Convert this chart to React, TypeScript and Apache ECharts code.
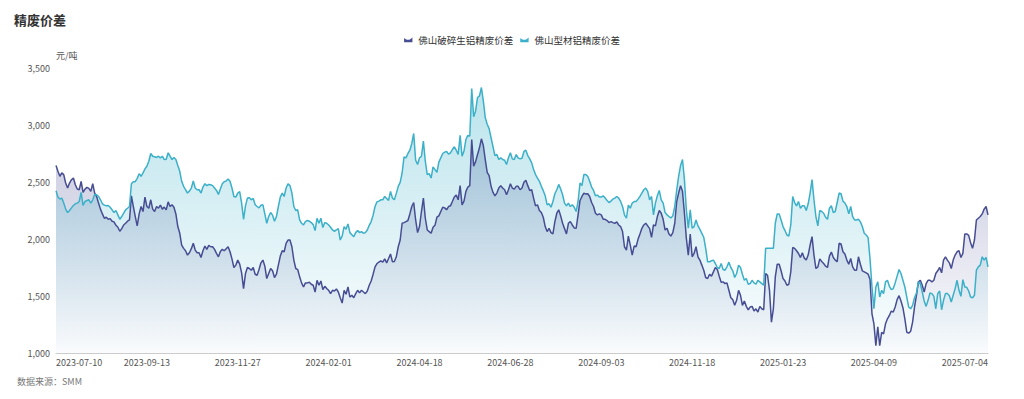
import React, { useEffect, useRef } from 'react';
import * as echarts from 'echarts';

// ---------- categories (Chinese trading days) ----------
const START = [2023, 6, 10]; // 2023-07-10 (month is 0-based)
const CATEGORY_COUNT = 483;
const HOLIDAYS = [
  '2023-09-29', '2023-10-02', '2023-10-03', '2023-10-04', '2023-10-05', '2023-10-06',
  '2024-01-01', '2024-02-09', '2024-02-12', '2024-02-13', '2024-02-14', '2024-02-15', '2024-02-16',
  '2024-04-04', '2024-04-05', '2024-05-01', '2024-05-02', '2024-05-03', '2024-06-10',
  '2024-09-16', '2024-09-17', '2024-10-01', '2024-10-02', '2024-10-03', '2024-10-04', '2024-10-07',
  '2025-01-01', '2025-01-28', '2025-01-29', '2025-01-30', '2025-01-31', '2025-02-03', '2025-02-04',
  '2025-04-04', '2025-05-01', '2025-05-02', '2025-05-05', '2025-06-02',
];
const NO_PRICE_DAYS = [
  '2025-05-06', '2025-05-07', '2025-05-08', '2025-05-09', '2025-05-12', '2025-05-13',
  '2025-05-14', '2025-05-15', '2025-05-16', '2025-05-19', '2025-05-20',
];

// ---------- series ----------
const SERIES_NAMES = ['佛山破碎生铝精废价差', '佛山型材铝精废价差'];

const crushedSpread = [
  2644, 2594, 2550, 2580, 2565, 2491, 2447, 2491, 2520, 2535,
  2476, 2438, 2432, 2506, 2409, 2438, 2453, 2444, 2418, 2485,
  2403, 2373, 2315, 2262, 2220, 2182, 2191, 2173, 2179, 2156,
  2150, 2120, 2103, 2068, 2091, 2123, 2138, 2156, 2167, 2379,
  2285, 2197, 2115, 2220, 2285, 2241, 2368, 2285, 2270, 2344,
  2262, 2241, 2285, 2270, 2297, 2262, 2280, 2256, 2326, 2285,
  2300, 2279, 2220, 2109, 2050, 1947, 1918, 1897, 1859, 1879,
  1915, 1962, 1903, 1879, 1879, 1838, 1897, 1938, 1909, 1944,
  1932, 1932, 1909, 1874, 1844, 1891, 1909, 1897, 1915, 1932,
  1888, 1826, 1750, 1771, 1815, 1779, 1703, 1565, 1697, 1750,
  1741, 1726, 1750, 1691, 1682, 1732, 1791, 1815, 1762, 1653,
  1697, 1741, 1721, 1662, 1691, 1771, 1850, 1897, 1888, 1962,
  1991, 1991, 1932, 1815, 1741, 1732, 1668, 1615, 1579, 1615,
  1615, 1621, 1603, 1594, 1535, 1638, 1594, 1632, 1556, 1585,
  1565, 1550, 1521, 1550, 1544, 1562, 1535, 1485, 1438, 1550,
  1515, 1579, 1491, 1506, 1485, 1521, 1550, 1527, 1550, 1535,
  1521, 1544, 1594, 1632, 1691, 1756, 1785, 1797, 1809, 1797,
  1826, 1791, 1829, 1868, 1800, 1803, 1844, 1932, 1991, 2138,
  2144, 2153, 2162, 2220, 2285, 2320, 2167, 2056, 2109, 2241,
  2359, 2182, 2079, 2065, 2050, 2103, 2120, 2191, 2203, 2241,
  2279, 2273, 2256, 2285, 2291, 2329, 2368, 2385, 2344, 2468,
  2300, 2332, 2418, 2456, 2468, 2873, 2638, 2679, 2741, 2800,
  2879, 2820, 2697, 2585, 2556, 2462, 2409, 2379, 2403, 2447,
  2468, 2447, 2432, 2388, 2432, 2485, 2447, 2438, 2462, 2462,
  2432, 2447, 2497, 2515, 2468, 2426, 2432, 2359, 2291, 2300,
  2250, 2232, 2191, 2109, 2065, 2094, 2056, 2044, 2153, 2226,
  2256, 2203, 2138, 2091, 2044, 2138, 2153, 2123, 2097, 2094,
  2212, 2338, 2373, 2403, 2394, 2397, 2373, 2320, 2285, 2226,
  2212, 2220, 2212, 2173, 2173, 2162, 2144, 2153, 2144, 2138,
  2150, 2123, 2109, 2065, 1932, 1903, 2026, 1947, 1859, 1938,
  1932, 1997, 2044, 2094, 2123, 2138, 2115, 2091, 2015, 2123,
  2115, 2197, 2250, 2226, 2173, 2079, 2094, 2044, 2026, 2056,
  2138, 2329, 2403, 2468, 2418, 2226, 2005, 1859, 2044, 1844,
  1873, 1932, 1844, 1815, 1771, 1726, 1662, 1653, 1691, 1674,
  1712, 1750, 1732, 1674, 1621, 1624, 1609, 1615, 1550, 1485,
  1468, 1418, 1462, 1550, 1506, 1418, 1456, 1409, 1379, 1403,
  1409, 1368, 1388, 1359, 1409, 1388, 1379, 1697, 1682, 1550,
  1271, 1388, 1668, 1779, 1779, 1721, 1653, 1632, 1594, 1603,
  1712, 1926, 1918, 1897, 1873, 1838, 1879, 1832, 1815, 1859,
  1947, 2021, 1859, 1741, 1756, 1826, 1803, 1785, 1762, 1750,
  1850, 1885, 1838, 1815, 1800, 1962, 1956, 1888, 1868, 1815,
  1779, 1829, 1756, 1726, 1726, 1844, 1779, 1721, 1712, 1703,
  1691, 1644, 1344, 1256, 1065, 1230, 1065, 1182, 1168, 1256,
  1300, 1329, 1368, 1359, 1403, 1468, 1503, 1456, 1397, 1300,
  1182, 1174, 1191, 1271, 1403, 1506, 1624, 1638, 1594, 1535,
  1609, 1638, 1638, 1624, 1638, 1697, 1721, 1750, 1703, 1815,
  1844, 1815, 1791, 1741, 1815, 1859, 1888, 1897, 1838, 1874,
  2044, 2044, 2032, 1968, 1918, 1991, 2167, 2182, 2197, 2220,
  2262, 2285, 2212,
];

const profileSpread = [
  2423, 2368, 2350, 2359, 2315, 2262, 2232, 2250, 2273, 2294,
  2309, 2315, 2329, 2409, 2294, 2329, 2338, 2344, 2315, 2344,
  2391, 2388, 2373, 2344, 2309, 2297, 2291, 2294, 2279, 2256,
  2232, 2250, 2212, 2173, 2197, 2226, 2256, 2270, 2285, 2485,
  2503, 2503, 2532, 2573, 2550, 2579, 2615, 2638, 2682, 2750,
  2726, 2721, 2715, 2726, 2712, 2726, 2697, 2700, 2756, 2726,
  2697, 2715, 2697, 2644, 2594, 2506, 2462, 2432, 2403, 2420,
  2447, 2509, 2447, 2432, 2432, 2403, 2456, 2485, 2468, 2479,
  2476, 2468, 2447, 2426, 2391, 2438, 2485, 2503, 2509, 2526,
  2506, 2447, 2373, 2368, 2403, 2415, 2315, 2173, 2291, 2359,
  2362, 2344, 2356, 2300, 2285, 2273, 2297, 2300, 2220, 2138,
  2197, 2232, 2209, 2156, 2197, 2285, 2368, 2403, 2373, 2447,
  2485, 2468, 2403, 2285, 2250, 2256, 2167, 2138, 2123, 2153,
  2162, 2156, 2144, 2126, 2074, 2182, 2138, 2182, 2100, 2144,
  2138, 2123, 2103, 2079, 2068, 2079, 2091, 1991, 2026, 2109,
  2085, 2132, 2056, 2038, 2020, 2056, 2074, 2056, 2065, 2050,
  2056, 2079, 2120, 2153, 2209, 2285, 2326, 2332, 2344, 2344,
  2373, 2356, 2338, 2418, 2359, 2344, 2400, 2462, 2497, 2579,
  2721, 2712, 2750, 2779, 2838, 2926, 2691, 2653, 2712, 2726,
  2859, 2682, 2565, 2573, 2535, 2632, 2609, 2585, 2674, 2712,
  2750, 2762, 2768, 2744, 2756, 2785, 2809, 2779, 2741, 2909,
  2726, 2771, 2873, 2909, 2903, 3320, 3073, 3123, 3241, 3256,
  3329, 3212, 3065, 3006, 2968, 2888, 2809, 2732, 2741, 2697,
  2712, 2697, 2691, 2653, 2712, 2756, 2703, 2697, 2741, 2712,
  2703, 2709, 2768, 2779, 2732, 2703, 2668, 2609, 2565, 2535,
  2506, 2462, 2424, 2379, 2300, 2309, 2279, 2329, 2397, 2432,
  2479, 2438, 2388, 2315, 2291, 2315, 2285, 2300, 2279, 2241,
  2329, 2491, 2468, 2565, 2565, 2550, 2506, 2456, 2426, 2379,
  2385, 2368, 2368, 2379, 2359, 2338, 2320, 2332, 2350, 2359,
  2373, 2359, 2329, 2285, 2212, 2182, 2297, 2270, 2315, 2329,
  2329, 2350, 2373, 2403, 2432, 2447, 2418, 2344, 2373, 2212,
  2315, 2379, 2426, 2344, 2315, 2232, 2212, 2197, 2185, 2203,
  2285, 2426, 2550, 2644, 2697, 2521, 2256, 2094, 2256, 2094,
  2109, 2167, 2115, 2085, 2050, 2015, 1918, 1800, 1800, 1809,
  1815, 1785, 1750, 1741, 1785, 1732, 1726, 1756, 1797, 1750,
  1721, 1662, 1697, 1771, 1750, 1691, 1638, 1653, 1603, 1609,
  1638, 1615, 1603, 1638, 1624, 1609, 1594, 1918, 1918, 1918,
  1918, 1918, 2138, 2220, 2220, 2167, 2109, 2074, 2035, 2026,
  2123, 2373, 2320, 2291, 2329, 2270, 2291, 2291, 2250, 2309,
  2403, 2521, 2344, 2197, 2115, 2250, 2241, 2226, 2191, 2173,
  2270, 2291, 2232, 2241, 2320, 2403, 2397, 2332, 2315, 2285,
  2220, 2285, 2197, 2167, 2167, 2173, 2150, 2109, 2050, 2035,
  2012, 1821, 1579, 1388, 1579, 1624, 1491, 1550, 1521, 1624,
  1638, 1585, 1556, 1565, 1615, 1674, 1732, 1697, 1638, 1579,
  1491, 1403, 1388, 1418, 1485, 1526, 1624, 1609, 1535, 1456,
  1409, 1462, 1526, 1521, 1497, 1388, 1521, 1544, 1379, 1462,
  1521, 1521, 1503, 1447, 1506, 1565, 1638, 1550, 1497, 1644,
  1579, 1576, 1544, 1491, 1485, 1506, 1726, 1756, 1771, 1844,
  1815, 1838, 1756,
];

// ---------- axis ----------
const Y_MIN = 1000;
const Y_MAX = 3500;
const Y_STEP = 500;
const X_LABEL_EVERY = 47;

function buildDates(): string[] {
  const skip = new Set([...HOLIDAYS, ...NO_PRICE_DAYS]);
  const out: string[] = [];
  const d = new Date(Date.UTC(START[0], START[1], START[2]));
  while (out.length < CATEGORY_COUNT) {
    const wd = d.getUTCDay();
    const s = d.toISOString().slice(0, 10);
    if (wd !== 0 && wd !== 6 && !skip.has(s)) out.push(s);
    d.setUTCDate(d.getUTCDate() + 1);
  }
  return out;
}

const FONT = '"Noto Sans CJK SC", "Noto Sans", sans-serif';
const DARK = '#474d93';
const CYAN = '#3bb0c8';
const WAVE_ICON = 'path://M0,1 C3,4 7,4 10,0 L10,6 L0,6 Z';

export default function App() {
  const ref = useRef<HTMLDivElement>(null);

  useEffect(() => {
    if (!ref.current) return;
    const chart = echarts.init(ref.current, null, { renderer: 'svg' });
    const dates = buildDates();
    chart.setOption({
      animation: false,
      backgroundColor: '#ffffff',
      textStyle: { fontFamily: FONT },
      title: {
        text: '精废价差',
        left: 9,
        top: 8,
        textStyle: { fontSize: 13, fontWeight: 'bold', color: '#333333', fontFamily: FONT },
      },
      legend: {
        left: 'center',
        top: 30,
        itemWidth: 10,
        itemHeight: 5,
        itemGap: 7,
        icon: WAVE_ICON,
        textStyle: { fontSize: 9.5, color: '#333333', fontFamily: FONT },
        data: SERIES_NAMES,
      },
      grid: { left: 56, right: 36, top: 68, bottom: 46, containLabel: false, outerBoundsMode: 'none' },
      xAxis: {
        type: 'category',
        boundaryGap: false,
        data: dates,
        axisLine: { show: true, lineStyle: { color: '#cccccc', width: 1 } },
        axisTick: { show: false },
        splitLine: { show: false },
        axisLabel: {
          interval: X_LABEL_EVERY - 1,
          alignMinLabel: 'left',
          fontSize: 9,
          color: '#555555',
          margin: 5,
          fontFamily: FONT,
        },
      },
      yAxis: {
        type: 'value',
        min: Y_MIN,
        max: Y_MAX,
        interval: Y_STEP,
        name: '元/吨',
        nameLocation: 'end',
        nameGap: 8,
        nameTextStyle: { fontSize: 9, color: '#555555', align: 'left', fontFamily: FONT },
        axisLine: { show: false },
        axisTick: { show: false },
        splitLine: { show: false },
        axisLabel: {
          fontSize: 9,
          color: '#555555',
          margin: 6,
          fontFamily: FONT,
          formatter: (v: number) => v.toLocaleString('en-US'),
        },
      },
      graphic: [
        {
          type: 'text',
          left: 17,
          top: 377,
          style: { text: '数据来源：SMM', fontSize: 9, fill: '#777777', fontFamily: FONT },
        },
      ],
      series: [
        {
          name: SERIES_NAMES[0],
          type: 'line',
          data: crushedSpread,
          symbol: 'none',
          showSymbol: false,
          lineStyle: { color: DARK, width: 1.5 },
          itemStyle: { color: DARK },
          areaStyle: {
            color: new echarts.graphic.LinearGradient(0, 0, 0, 1, [
              { offset: 0, color: 'rgba(71,77,147,0.42)' },
              { offset: 1, color: 'rgba(71,77,147,0.02)' },
            ]),
          },
        },
        {
          name: SERIES_NAMES[1],
          type: 'line',
          data: profileSpread,
          symbol: 'none',
          showSymbol: false,
          lineStyle: { color: CYAN, width: 1.5 },
          itemStyle: { color: CYAN },
          areaStyle: {
            color: new echarts.graphic.LinearGradient(0, 0, 0, 1, [
              { offset: 0, color: 'rgba(59,176,200,0.5)' },
              { offset: 1, color: 'rgba(59,176,200,0.02)' },
            ]),
          },
        },
      ],
    });
    return () => chart.dispose();
  }, []);

  return (
    <div
      ref={ref}
      style={{ position: 'fixed', left: 0, top: 0, width: 1024, height: 399, background: '#ffffff' }}
    />
  );
}
